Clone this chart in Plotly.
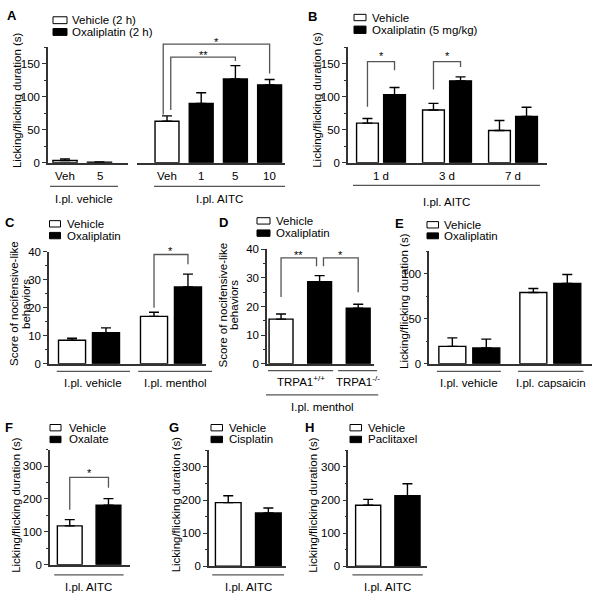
import plotly.graph_objects as go

W, H = 600, 603
FONT = "Liberation Sans, Arial, Helvetica, sans-serif"
AX = "#333333"
GREY = "#555555"

# ---------------- data ----------------
A_veh_labels = ["Veh", "5"]
A_veh_means = [3.4, 1.0]
A_veh_sem = [2.5, 0.4]
A_aitc_labels = ["Veh", "1", "5", "10"]
A_aitc_means = [63, 90, 127, 118]
A_aitc_sem = [8, 16, 20, 8]
A_groups = ["I.pl. vehicle", "I.pl. AITC"]

B_days = ["1 d", "3 d", "7 d"]
B_vehicle = [60, 80, 49]
B_vehicle_sem = [7, 10, 15]
B_oxali = [103, 124, 70]
B_oxali_sem = [11, 6, 14]

C_groups = ["I.pl. vehicle", "I.pl. menthol"]
C_vehicle = [8.4, 16.9]
C_vehicle_sem = [0.7, 1.5]
C_oxali = [11.1, 27.4]
C_oxali_sem = [1.7, 4.6]

D_labels = ["TRPA1<sup>+/+</sup>", "TRPA1<sup>-/-</sup>"]
D_vehicle = [15.6]
D_vehicle_sem = [1.8]
D_oxali = [28.7, 19.4]
D_oxali_sem = [2.1, 1.4]

E_groups = ["I.pl. vehicle", "I.pl. capsaicin"]
E_vehicle = [19.3, 79]
E_vehicle_sem = [9.4, 4.4]
E_oxali = [17.5, 89]
E_oxali_sem = [9.8, 10]

F_means = [118, 181]
F_sem = [19, 20]
G_means = [192, 161]
G_sem = [21, 15]
H_means = [184, 213]
H_sem = [18, 36]

LICK = "Licking/flicking duration (s)"

# ---------------- panel geometry (pixels) ----------------
P = {
    "A1": dict(n=1, box=(48, 128, 42, 160), xr=(-0.493, 1.826), ymax=175, dtick=50, minor=25, yvis=True),
    "A2": dict(n=2, box=(137, 285, 42, 160), xr=(-0.877, 3.45), ymax=175, dtick=50, minor=25, yvis=False),
    "B": dict(n=3, box=(348, 547, 42, 160), xr=(-0.5, 2.515), ymax=175, dtick=50, minor=25, yvis=True),
    "C": dict(n=4, box=(49, 206, 250.7, 365), xr=(-0.488, 1.427), ymax=40, dtick=10, minor=5, yvis=True),
    "D": dict(n=5, box=(267, 374, 248.3, 365), xr=(-0.364, 2.41), ymax=40, dtick=10, minor=5, yvis=True),
    "E": dict(n=6, box=(429.3, 591.7, 250, 365), xr=(-0.494, 1.511), ymax=125, dtick=50, minor=25, yvis=True),
    "F": dict(n=7, box=(50, 130, 452.7, 570), xr=(-0.51, 1.556), ymax=350, dtick=100, minor=50, yvis=True),
    "G": dict(n=8, box=(209, 286, 453.3, 571.7), xr=(-0.48, 1.44), ymax=350, dtick=100, minor=50, yvis=True),
    "H": dict(n=9, box=(348.3, 426.7, 453.3, 571.7), xr=(-0.506, 1.49), ymax=350, dtick=100, minor=50, yvis=True),
}


def refs(p):
    n = P[p]["n"]
    return ("x" if n == 1 else f"x{n}"), ("y" if n == 1 else f"y{n}")


def to_px(p, x, y):
    d = P[p]
    x0, x1, y0, y1 = d["box"]
    r0, r1 = d["xr"]
    px = x0 + (x - r0) / (r1 - r0) * (x1 - x0)
    py = y1 - y / d["ymax"] * (y1 - y0)
    return px, py


def xp(px):
    return px / W


def yp(py):
    return 1 - py / H


fig = go.Figure()
shapes = []
annots = []


def bars(p, x, y, sem, color, width, offset):
    xa, ya = refs(p)
    fig.add_trace(go.Bar(
        x=x, y=y, width=width, offset=offset, xaxis=xa, yaxis=ya,
        marker=dict(color=color, line=dict(color="black", width=1.4)),
        error_y=dict(type="data", array=sem, arrayminus=[0] * len(sem), symmetric=False,
                     color="black", thickness=1.4, width=5),
        showlegend=False, hoverinfo="skip"))


def text(px, py, s, size=11.5, bold=False, angle=0, xanchor="center"):
    annots.append(dict(x=xp(px), y=yp(py), xref="paper", yref="paper",
                       text=(f"<b>{s}</b>" if bold else s), showarrow=False,
                       font=dict(family=FONT, size=size, color="black"),
                       xanchor=xanchor, yanchor="middle", textangle=angle))


def bracket(p, xl, xr_, yl, ytop, yr, label, ystar):
    a = to_px(p, xl, yl)
    b = to_px(p, xl, ytop)
    c = to_px(p, xr_, ytop)
    d = to_px(p, xr_, yr)
    path = "M {} {} L {} {} L {} {} L {} {}".format(
        xp(a[0]), yp(a[1]), xp(b[0]), yp(b[1]), xp(c[0]), yp(c[1]), xp(d[0]), yp(d[1]))
    shapes.append(dict(type="path", path=path, xref="paper", yref="paper",
                       line=dict(color=GREY, width=1.3)))
    sx, sy = to_px(p, (xl + xr_) / 2, ystar)
    text(sx, sy + 3, label, size=11)


def underline(p, xa, xb, py):
    pa = to_px(p, xa, 0)[0]
    pb = to_px(p, xb, 0)[0]
    shapes.append(dict(type="line", xref="paper", yref="paper", x0=xp(pa), x1=xp(pb),
                       y0=yp(py), y1=yp(py), line=dict(color=GREY, width=1.3)))
    return (pa + pb) / 2


def cat_label(p, x, py, s):
    text(to_px(p, x, 0)[0], py, s)


def legend(x0, x1, rows, tx, size=11.5):
    for (ya, yb, col, lab) in rows:
        shapes.append(dict(type="rect", xref="paper", yref="paper", x0=xp(x0), x1=xp(x1),
                           y0=yp(yb), y1=yp(ya), fillcolor=col, line=dict(color="black", width=1)))
        text(tx, (ya + yb) / 2, lab, size=size, xanchor="left")


# ---------------- Panel A ----------------
bars("A1", [0], A_veh_means[:1], A_veh_sem[:1], "white", 0.7, -0.35)
bars("A1", [1], A_veh_means[1:], A_veh_sem[1:], "black", 0.7, -0.35)
bars("A2", [0], A_aitc_means[:1], A_aitc_sem[:1], "white", 0.7, -0.35)
bars("A2", [1, 2, 3], A_aitc_means[1:], A_aitc_sem[1:], "black", 0.7, -0.35)
for i, s in enumerate(A_veh_labels):
    cat_label("A1", i, 173, s)
for i, s in enumerate(A_aitc_labels):
    cat_label("A2", i, 173, s)
c = underline("A1", -0.435, 1.536, 184)
text(c, 197, A_groups[0])
c = underline("A2", -0.38, 3.45, 184)
text(c, 197, A_groups[1])
bracket("A2", 0.11, 2, 80, 160, 154, "**", 167)
bracket("A2", -0.11, 3, 73, 179.5, 135, "*", 188)
legend(53, 67, [(11, 18, "white", "Vehicle (2 h)"), (23, 30, "black", "Oxaliplatin (2 h)")], 70)
text(12, 10, "A", size=13, bold=True)
text(17, 96, LICK, angle=-90)

# ---------------- Panel B ----------------
bars("B", [0, 1, 2], B_vehicle, B_vehicle_sem, "white", 0.33, -0.37)
bars("B", [0, 1, 2], B_oxali, B_oxali_sem, "black", 0.33, 0.04)
for i, s in enumerate(B_days):
    cat_label("B", i, 173, s)
c = underline("B", -0.424, 2.41, 183)
text(c, 200, "I.pl. AITC")
bracket("B", -0.205, 0.205, 85, 153, 140, "*", 166)
bracket("B", 0.795, 1.205, 111, 153, 145, "*", 166)
legend(354, 366, [(8.5, 15, "white", "Vehicle"), (20.5, 28, "black", "Oxaliplatin (5 mg/kg)")], 370)
text(312, 10.5, "B", size=13, bold=True)
text(316.7, 96, LICK, angle=-90)

# ---------------- Panel C ----------------
bars("C", [0, 1], C_vehicle, C_vehicle_sem, "white", 0.33, -0.372)
bars("C", [0, 1], C_oxali, C_oxali_sem, "black", 0.33, 0.042)
c = underline("C", -0.394, 0.5, 372.7)
text(c, 384.5, C_groups[0])
c = underline("C", 0.6, 1.5, 372.7)
text(c, 384.5, C_groups[1])
bracket("C", 0.793, 1.207, 20, 39, 35.5, "*", 41.4)
legend(49.5, 60.5, [(219, 225.5, "white", "Vehicle"), (231, 237.5, "black", "Oxaliplatin")], 65)
text(10, 221, "C", size=13, bold=True)
text(14, 304, "Score of nocifensive-like", angle=-90)
text(26, 304, "behaviors", angle=-90)

# ---------------- Panel D ----------------
bars("D", [0], D_vehicle, D_vehicle_sem, "white", 0.62, -0.31)
bars("D", [1, 2], D_oxali, D_oxali_sem, "black", 0.62, -0.31)
c = underline("D", -0.34, 1.35, 372)
text(c, 383, D_labels[0])
c = underline("D", 1.48, 2.49, 372)
text(c, 383, D_labels[1])
c = underline("D", -0.39, 2.52, 396.7)
text(c, 409, "I.pl. menthol")
bracket("D", 0, 0.92, 23.3, 37, 34.1, "**", 39.2)
bracket("D", 1.1, 2, 34.1, 37, 25, "*", 39.2)
legend(257, 270, [(216, 222.5, "white", "Vehicle"), (228.5, 235, "black", "Oxaliplatin")], 273.5)
text(223.5, 221, "D", size=13, bold=True)
text(222.5, 305, "Score of nocifensive-like", angle=-90)
text(234, 305, "behaviors", angle=-90)

# ---------------- Panel E ----------------
bars("E", [0, 1], E_vehicle, E_vehicle_sem, "white", 0.333, -0.376)
bars("E", [0, 1], E_oxali, E_oxali_sem, "black", 0.333, 0.043)
c = underline("E", -0.40, 0.39, 372.7)
text(c, 384.5, E_groups[0])
c = underline("E", 0.6, 1.41, 372.7)
text(c, 384.5, E_groups[1])
legend(427, 438.5, [(220, 226.5, "white", "Vehicle"), (231.5, 237.5, "black", "Oxaliplatin")], 442)
text(399.5, 222, "E", size=13, bold=True)
text(403.5, 301.5, LICK, angle=-90)

# ---------------- Panels F, G, H ----------------
for p, means, sem, drug, (lx0, lx1, ltx), letter_xy, tx in [
    ("F", F_means, F_sem, "Oxalate", (50, 61, 66.5), (9, 430), 16),
    ("G", G_means, G_sem, "Cisplatin", (211, 222.5, 226.5), (173.5, 430), 175.5),
    ("H", H_means, H_sem, "Paclitaxel", (350, 361.5, 366), (309.5, 430), 313),
]:
    bars(p, [0], means[:1], sem[:1], "white", 0.64, -0.32)
    bars(p, [1], means[1:], sem[1:], "black", 0.64, -0.32)
    c = underline(p, -0.40, 1.39, 580.5)
    text(c, 593, "I.pl. AITC")
    legend(lx0, lx1, [(427, 433.5, "white", "Vehicle"), (439, 445.5, "black", drug)], ltx)
    text(letter_xy[0], letter_xy[1], p, size=13, bold=True)
    text(tx, 509, LICK, angle=-90)

bracket("F", 0, 1, 167, 266, 234, "*", 288)

# ---------------- axes ----------------
layout = dict(width=W, height=H, margin=dict(l=0, r=0, t=0, b=0), autosize=False,
              paper_bgcolor="white", plot_bgcolor="white", barmode="overlay",
              showlegend=False, font=dict(family=FONT, size=11, color="black"))
for p, d in P.items():
    n = d["n"]
    x0, x1, y0, y1 = d["box"]
    xs = "xaxis" if n == 1 else f"xaxis{n}"
    ys = "yaxis" if n == 1 else f"yaxis{n}"
    xa, ya = refs(p)
    layout[xs] = dict(domain=[x0 / W, x1 / W], range=list(d["xr"]), anchor=ya,
                      showline=True, linecolor=AX, linewidth=1.5, ticks="",
                      showticklabels=False, showgrid=False, zeroline=False, fixedrange=True)
    layout[ys] = dict(domain=[1 - y1 / H, 1 - y0 / H], range=[0, d["ymax"]], anchor=xa,
                      visible=d["yvis"], showline=True, linecolor=AX, linewidth=1.5,
                      ticks="outside", ticklen=4, tickwidth=1.4, tickcolor=AX,
                      tickmode="linear", tick0=0, dtick=d["dtick"],
                      minor=dict(ticks="outside", ticklen=2, tickwidth=1, tickcolor=AX,
                                 tick0=0, dtick=d["minor"]),
                      tickfont=dict(family=FONT, size=11.5, color="black"),
                      showgrid=False, zeroline=False, fixedrange=True)
layout["shapes"] = shapes
layout["annotations"] = annots
fig.update_layout(**layout)
fig.write_html("out.html", config={"displayModeBar": False},
               post_script="document.body.style.margin='0';document.body.style.overflow='hidden';")
